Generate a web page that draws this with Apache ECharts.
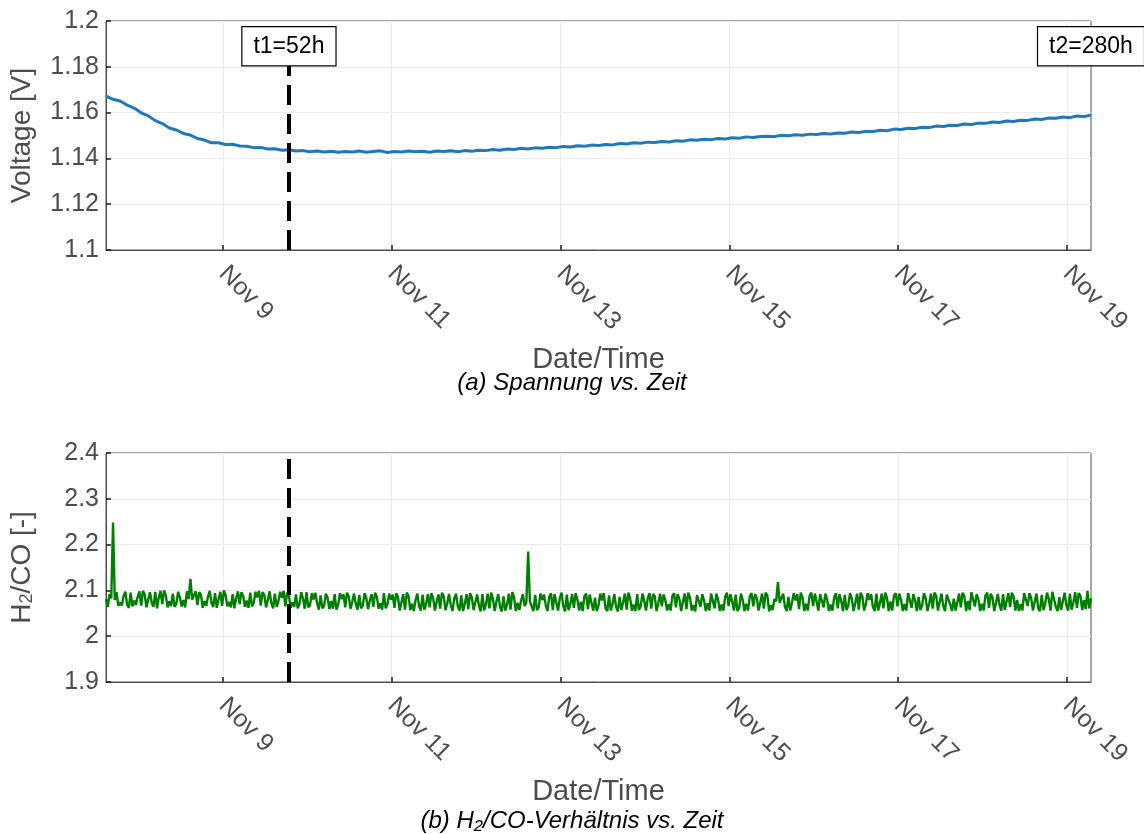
<!DOCTYPE html>
<html>
<head>
<meta charset="utf-8">
<script src="https://cdn.jsdelivr.net/npm/echarts@6/dist/echarts.min.js"></script>
<style>html,body{margin:0;padding:0;background:#fff}#c{width:1144px;height:834px}</style>
</head>
<body>
<div id="c"></div>
<script>
// ---- data ----
const startTime = [2022, 10, 7, 14, 48];     // Nov 7, 14:48 (t = 0 h)
const totalHours = 280;
const voltageStepHours = 2;
const markerHours = [52, 280];
const markerLabels = ['t1=52h', 't2=280h'];
const markerBoxValue = 1.189;
const xTickDays = [9, 11, 13, 15, 17, 19];
const xTickLabels = ['Nov 9', 'Nov 11', 'Nov 13', 'Nov 15', 'Nov 17', 'Nov 19'];
const voltageTicks = [1.1, 1.12, 1.14, 1.16, 1.18, 1.2];
const ratioTicks = [1.9, 2, 2.1, 2.2, 2.3, 2.4];

// voltage every 2 h
const voltage = [
1.1672,1.1658,1.1651,1.1633,1.1620,1.1599,1.1586,1.1565,1.1552,1.1533,
1.1524,1.1509,1.1502,1.1487,1.1480,1.1468,1.1468,1.1461,1.1462,1.1454,
1.1453,1.1447,1.1448,1.1441,1.1442,1.1436,1.1438,1.1432,1.1434,1.1429,
1.1432,1.1428,1.1431,1.1427,1.1430,1.1428,1.1432,1.1427,1.1430,1.1433,
1.1426,1.1430,1.1428,1.1432,1.1429,1.1431,1.1427,1.1432,1.1430,1.1433,
1.1429,1.1434,1.1431,1.1436,1.1434,1.1439,1.1436,1.1441,1.1439,1.1444,
1.1441,1.1446,1.1444,1.1449,1.1447,1.1452,1.1450,1.1455,1.1453,1.1458,
1.1456,1.1461,1.1459,1.1465,1.1463,1.1468,1.1466,1.1471,1.1469,1.1474,
1.1472,1.1477,1.1475,1.1481,1.1479,1.1484,1.1482,1.1487,1.1485,1.1490,
1.1488,1.1494,1.1491,1.1496,1.1497,1.1495,1.1501,1.1499,1.1503,1.1501,
1.1506,1.1504,1.1509,1.1507,1.1511,1.1510,1.1515,1.1513,1.1518,1.1517,
1.1523,1.1521,1.1528,1.1526,1.1532,1.1531,1.1536,1.1535,1.1541,1.1539,
1.1545,1.1544,1.1550,1.1548,1.1554,1.1553,1.1559,1.1557,1.1563,1.1561,
1.1567,1.1566,1.1572,1.1570,1.1576,1.1575,1.1581,1.1578,1.1585,1.1583,
1.1589
];

// H2/CO on the full hour (h = 0 ... 280)
const ratioOnHour = [
2.081,2.092,2.248,2.096,2.074,2.088,2.069,2.095,2.078,2.086,2.067,2.091,2.080,2.073,2.097,2.084,2.070,2.089,2.076,2.093,
2.071,2.085,2.079,2.098,2.125,2.082,2.068,2.090,2.077,2.087,2.072,2.094,2.081,2.066,2.089,2.075,2.092,2.083,2.070,2.088,
2.078,2.095,2.073,2.085,2.067,2.090,2.079,2.072,2.093,2.076,2.084,2.065,2.088,2.074,2.091,2.070,2.082,2.096,2.068,2.080,
2.073,2.089,2.066,2.084,2.077,2.092,2.069,2.081,2.063,2.087,2.075,2.071,2.090,2.067,2.083,2.078,2.064,2.086,2.072,2.094,
2.069,2.080,2.062,2.085,2.074,2.058,2.088,2.071,2.079,2.066,2.091,2.070,2.063,2.083,2.075,2.060,2.087,2.072,2.068,2.082,
2.065,2.089,2.071,2.059,2.084,2.074,2.067,2.092,2.070,2.061,2.081,2.076,2.064,2.087,2.069,2.058,2.085,2.073,2.078,2.066,
2.185,2.072,2.090,2.063,2.079,2.068,2.086,2.057,2.074,2.083,2.065,2.091,2.070,2.062,2.080,2.075,2.088,2.059,2.073,2.084,
2.067,2.078,2.061,2.089,2.071,2.064,2.086,2.074,2.058,2.082,2.069,2.092,2.066,2.077,2.083,2.060,2.087,2.072,2.065,2.079,
2.070,2.088,2.063,2.081,2.075,2.059,2.085,2.068,2.090,2.064,2.078,2.072,2.093,2.061,2.080,2.069,2.086,2.066,2.076,2.091,
2.062,2.079,2.071,2.087,2.065,2.083,2.074,2.060,2.089,2.068,2.081,2.118,2.070,2.064,2.086,2.073,2.078,2.059,2.084,2.071,
2.088,2.066,2.075,2.092,2.063,2.080,2.069,2.085,2.061,2.077,2.090,2.067,2.082,2.073,2.058,2.087,2.070,2.079,2.064,2.093,
2.072,2.061,2.084,2.076,2.089,2.065,2.080,2.070,2.094,2.062,2.078,2.086,2.067,2.083,2.071,2.060,2.088,2.075,2.066,2.091,
2.069,2.082,2.074,2.063,2.087,2.077,2.096,2.065,2.080,2.071,2.089,2.062,2.084,2.073,2.068,2.092,2.076,2.064,2.086,2.079,
2.070,2.094,2.066,2.083,2.075,2.061,2.090,2.072,2.081,2.097,2.064,2.085,2.077,2.068,2.093,2.074,2.062,2.088,2.079,2.099,
2.083
];
// H2/CO on the half hour (h = 0.5 ... 279.5)
const ratioHalfHour = [
2.064,2.083,2.079,2.066,2.067,2.097,2.062,2.065,2.068,2.098,2.099,2.063,2.096,2.064,2.061,2.099,2.100,2.063,2.066,2.064,
2.097,2.065,2.063,2.081,2.080,2.098,2.096,2.062,2.066,2.099,2.064,2.062,2.097,2.100,2.065,2.063,2.061,2.098,2.096,2.064,
2.062,2.065,2.097,2.099,2.096,2.063,2.098,2.061,2.064,2.097,2.099,2.095,2.062,2.064,2.061,2.096,2.060,2.063,2.094,2.095,
2.058,2.061,2.093,2.059,2.060,2.058,2.094,2.092,2.095,2.060,2.093,2.058,2.061,2.094,2.059,2.092,2.095,2.060,2.058,2.061,
2.093,2.091,2.094,2.056,2.092,2.095,2.057,2.055,2.093,2.056,2.058,2.092,2.094,2.056,2.091,2.095,2.057,2.092,2.055,2.093,
2.056,2.055,2.092,2.094,2.057,2.091,2.054,2.056,2.093,2.095,2.055,2.092,2.054,2.056,2.093,2.096,2.055,2.057,2.092,2.074,
2.076,2.055,2.057,2.093,2.091,2.055,2.094,2.092,2.056,2.095,2.054,2.057,2.092,2.094,2.056,2.055,2.093,2.091,2.056,2.055,
2.093,2.094,2.055,2.056,2.092,2.054,2.057,2.093,2.095,2.056,2.055,2.057,2.093,2.056,2.094,2.092,2.055,2.093,2.091,2.056,
2.056,2.094,2.092,2.055,2.093,2.095,2.056,2.054,2.094,2.092,2.055,2.056,2.094,2.093,2.055,2.056,2.095,2.092,2.056,2.055,
2.093,2.055,2.056,2.094,2.092,2.056,2.093,2.095,2.054,2.057,2.076,2.073,2.093,2.055,2.056,2.094,2.092,2.095,2.055,2.056,
2.095,2.093,2.056,2.095,2.093,2.055,2.056,2.094,2.092,2.055,2.057,2.094,2.055,2.093,2.095,2.056,2.094,2.092,2.055,2.056,
2.093,2.095,2.055,2.056,2.094,2.093,2.055,2.056,2.096,2.092,2.055,2.057,2.094,2.055,2.093,2.095,2.056,2.093,2.055,2.095,
2.055,2.056,2.093,2.095,2.055,2.057,2.094,2.092,2.055,2.056,2.095,2.093,2.055,2.092,2.056,2.057,2.094,2.095,2.056,2.055,
2.056,2.096,2.094,2.056,2.093,2.055,2.057,2.095,2.056,2.096,2.055,2.057,2.095,2.056,2.058,2.096,2.094,2.057,2.059,2.061
];

// ---- build ----
const HOUR = 3600 * 1000;
const t0 = new Date(startTime[0], startTime[1], startTime[2], startTime[3], startTime[4]).getTime();
// x axis = hours since start; ticks at midnight of the tick days
const tickHours = xTickDays.map(d => (new Date(startTime[0], startTime[1], d).getTime() - t0) / HOUR);
const voltageData = voltage.map((v, i) => [i * voltageStepHours, v]);
const ratioData = [];
ratioOnHour.forEach((v, i) => {
  ratioData.push([i, v]);
  if (i < ratioHalfHour.length) ratioData.push([i + 0.5, ratioHalfHour[i]]);
});

const FONT = '"Liberation Sans", Arial, Helvetica, sans-serif';
const GRAY = '#4d4d4d';

function labelFor(v) {
  let best = -1, bd = 1e9;
  tickHours.forEach((h, i) => { const d = Math.abs(h - v); if (d < bd) { bd = d; best = i; } });
  return bd < 0.01 ? xTickLabels[best] : '';
}

function xAxis(gridIndex) {
  return {
    type: 'value', gridIndex, min: 0, max: totalHours,
    name: 'Date/Time', nameLocation: 'middle', nameGap: 95, nameMoveOverlap: false,
    nameTextStyle: {fontSize: 29, color: GRAY, fontFamily: FONT},
    axisLine: {show: true, lineStyle: {color: GRAY, width: 1}},
    axisTick: {show: true, inside: true, length: 5, customValues: tickHours, lineStyle: {color: '#1a1a1a', width: 1.5}},
    axisLabel: {
      show: true, customValues: tickHours, rotate: -45, margin: 20,
      fontSize: 25, color: GRAY, fontFamily: FONT, hideOverlap: false,
      showMinLabel: true, showMaxLabel: true,
      formatter: v => labelFor(v)
    },
    splitLine: {show: true, lineStyle: {color: '#ebebeb', width: 1}}
  };
}
function yAxis(gridIndex, ticks, name, nameStyle) {
  return {
    type: 'value', gridIndex, min: ticks[0], max: ticks[ticks.length - 1],
    interval: Math.round((ticks[1] - ticks[0]) * 1000) / 1000,
    name, nameLocation: 'middle', nameGap: 70, nameMoveOverlap: false,
    nameTextStyle: nameStyle,
    axisLine: {show: true, lineStyle: {color: GRAY, width: 1}},
    axisTick: {show: true, inside: true, length: 5, lineStyle: {color: '#1a1a1a', width: 1.5}},
    axisLabel: {fontSize: 25, color: GRAY, fontFamily: FONT, margin: 7},
    splitLine: {show: true, lineStyle: {color: '#ebebeb', width: 1}}
  };
}

const chart = echarts.init(document.getElementById('c'), null, {renderer: 'canvas'});
chart.setOption({
  backgroundColor: '#fff',
  animation: false,
  grid: [
    {left: 106, right: 53, top: 21, height: 229, show: true, borderColor: GRAY, borderWidth: 1, backgroundColor: '#fff', outerBoundsMode: 'none', containLabel: false},
    {left: 106, right: 53, top: 453, height: 229, show: true, borderColor: GRAY, borderWidth: 1, backgroundColor: '#fff', outerBoundsMode: 'none', containLabel: false}
  ],
  xAxis: [xAxis(0), xAxis(1)],
  yAxis: [
    yAxis(0, voltageTicks, 'Voltage [V]', {fontSize: 28, color: GRAY, fontFamily: FONT}),
    yAxis(1, ratioTicks, '{n|H}{s|2}{n|/CO [-]}', {
      color: GRAY, fontFamily: FONT,
      rich: {
        n: {fontSize: 28, color: GRAY, fontFamily: FONT, verticalAlign: 'top', lineHeight: 28, padding: [0, 0, 7, 0]},
        s: {fontSize: 18, color: GRAY, fontFamily: FONT, verticalAlign: 'bottom', lineHeight: 18}
      }
    })
  ],
  series: [
    {
      type: 'line', xAxisIndex: 0, yAxisIndex: 0, data: voltageData,
      showSymbol: false, symbol: 'none', clip: true,
      lineStyle: {color: '#1f77bc', width: 3}, z: 3,
      markLine: {
        silent: true, symbol: 'none', z: 5,
        label: {show: false},
        lineStyle: {color: '#000', width: 4, type: [20, 9]},
        data: [{xAxis: markerHours[0]}]
      },
      markPoint: {
        silent: true, symbol: 'rect', symbolSize: 1, z: 10,
        itemStyle: {color: 'rgba(0,0,0,0)'},
        label: {
          show: true, position: 'inside', formatter: p => p.name,
          fontSize: 23, color: '#000', fontFamily: FONT,
          backgroundColor: '#fff', borderColor: '#000', borderWidth: 1.2, padding: [8, 11, 7, 11]
        },
        data: markerHours.map((h, i) => ({name: markerLabels[i], coord: [h, markerBoxValue]}))
      }
    },
    {
      type: 'line', xAxisIndex: 1, yAxisIndex: 1, data: ratioData,
      showSymbol: false, symbol: 'none', clip: true,
      lineStyle: {color: '#008000', width: 2.4}, z: 3,
      markLine: {
        silent: true, symbol: 'none', z: 5,
        label: {show: false},
        lineStyle: {color: '#000', width: 4, type: [20, 9]},
        data: [{xAxis: markerHours[0]}]
      }
    }
  ],
  graphic: [
    {type: 'text', left: 'center', top: 371, style: {text: '(a) Spannung vs. Zeit', font: 'italic 24px ' + FONT, fill: '#000'}},
    {type: 'text', left: 'center', top: 809, style: {text: '(b) H\u2082/CO-Verhältnis vs. Zeit', font: 'italic 24px ' + FONT, fill: '#000'}}
  ]
});
</script>
</body>
</html>
